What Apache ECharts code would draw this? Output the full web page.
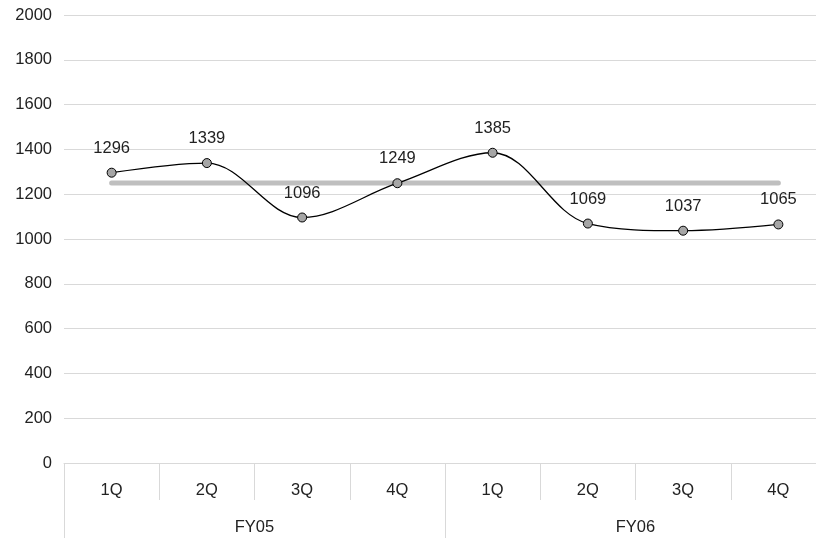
<!DOCTYPE html>
<html><head><meta charset="utf-8">
<script src="https://cdn.jsdelivr.net/npm/echarts@6/dist/echarts.min.js"></script>
<style>html,body{margin:0;padding:0;background:#fff;overflow:hidden;width:816px;height:538px}#c{width:826px;height:538px}</style>
</head><body><div id="c"></div>
<script>
const quarters = ['1Q','2Q','3Q','4Q','1Q','2Q','3Q','4Q'];
const years = ['FY05','FY06'];
const values = [1296,1339,1096,1249,1385,1069,1037,1065];
const target = [1250,1250,1250,1250,1250,1250,1250,1250];
const yTicks = {min:0, max:2000, interval:200};

const chart = echarts.init(document.getElementById('c'), null, {renderer:'canvas'});
const font = 'Liberation Sans, Arial, sans-serif';
const fs = 16.5;
chart.setOption({
  animation:false,
  grid:{left:64, right:0, top:15, bottom:75, containLabel:false},
  xAxis:[{
    type:'category', data:quarters, position:'bottom',
    axisLine:{show:true, lineStyle:{color:'#d9d9d9', width:1}},
    axisTick:{show:true, interval:0, length:37, lineStyle:{color:'#d9d9d9'}},
    axisLabel:{color:'#222', fontSize:fs, fontFamily:font, margin:19, interval:0}
  },{
    type:'category', data:years, position:'bottom',
    axisLine:{show:false},
    axisTick:{show:true, interval:0, length:75, lineStyle:{color:'#d9d9d9'}},
    axisLabel:{color:'#222', fontSize:fs, fontFamily:font, margin:56}
  }],
  yAxis:{
    type:'value', min:yTicks.min, max:yTicks.max, interval:yTicks.interval,
    axisLine:{show:false}, axisTick:{show:false},
    splitLine:{lineStyle:{color:'#d9d9d9'}},
    axisLabel:{color:'#222', fontSize:fs, fontFamily:font, margin:12, formatter:v=>String(v)}
  },
  series:[{
    type:'line', data:target, xAxisIndex:0, symbol:'none',
    lineStyle:{color:'#bfbfbf', width:5, cap:'round'}, z:1
  },{
    type:'line', data:values, xAxisIndex:0, smooth:0.35,
    symbol:'circle', symbolSize:9,
    itemStyle:{color:'#a6a6a6', borderColor:'#000', borderWidth:1},
    lineStyle:{color:'#000', width:1.3},
    label:{show:true, position:'top', distance:11, color:'#222', fontSize:fs, fontFamily:font, formatter:p=>String(p.value)},
    z:3
  }]
});
</script></body></html>
